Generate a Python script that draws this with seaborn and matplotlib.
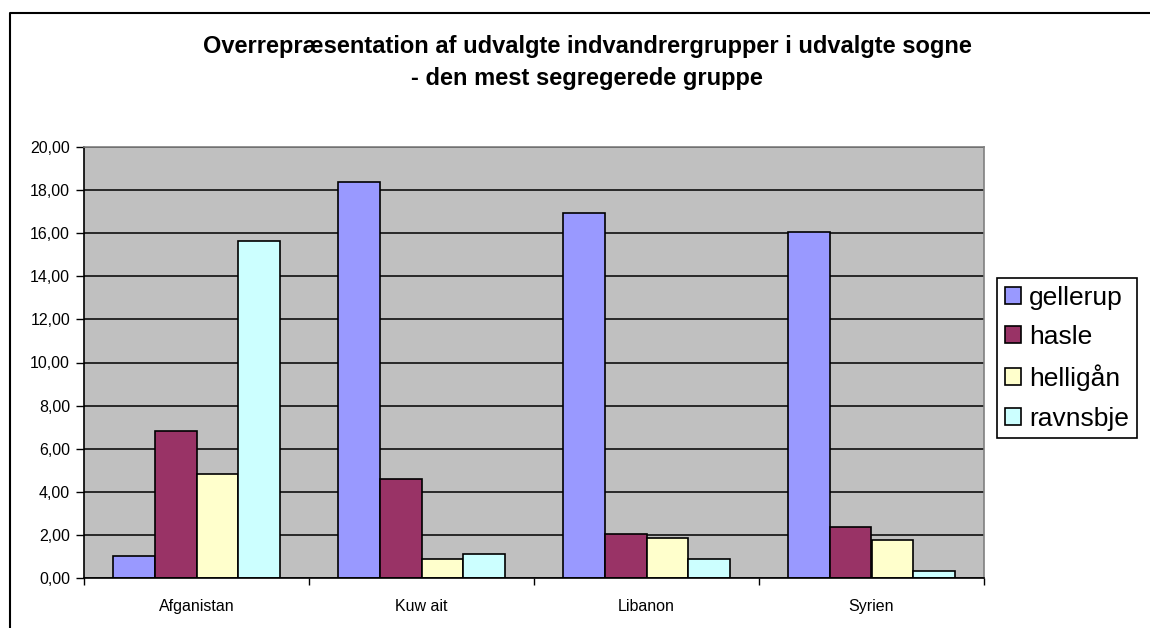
import pandas as pd
import seaborn as sns
import matplotlib.pyplot as plt
from matplotlib.lines import Line2D
from matplotlib.ticker import FuncFormatter

# data
lande = ["Afganistan", "Kuw ait", "Libanon", "Syrien"]
sogne = ["gellerup", "hasle", "helligån", "ravnsbje"]
gellerup = [1.03, 18.38, 16.95, 16.07]
hasle = [6.82, 4.59, 2.06, 2.35]
helligaan = [4.81, 0.90, 1.84, 1.78]
ravnsbje = [15.65, 1.11, 0.90, 0.32]
farver = ["#9999FF", "#993366", "#FFFFCC", "#CCFFFF"]

titel = "Overrepræsentation af udvalgte indvandrergrupper i udvalgte sogne\n- den mest segregerede gruppe"


def long_format():
    rows = []
    for sogn, vals in zip(sogne, [gellerup, hasle, helligaan, ravnsbje]):
        for land, v in zip(lande, vals):
            rows.append({"land": land, "sogn": sogn, "vaerdi": v})
    return pd.DataFrame(rows)


sns.set_style("white")
plt.rcParams["font.family"] = ["Liberation Sans", "DejaVu Sans"]
plt.rcParams["text.color"] = "black"
plt.rcParams["xtick.color"] = "black"
plt.rcParams["ytick.color"] = "black"

df = long_format()

fig = plt.figure(figsize=(11.5, 6.28), dpi=100)
ax = fig.add_axes([84 / 1150, 1 - 578 / 628, 900 / 1150, 431 / 628])

sns.barplot(data=df, x="land", y="vaerdi", hue="sogn", hue_order=sogne,
            palette=farver, edgecolor="black", linewidth=1.2, width=0.74,
            saturation=1, ax=ax)

ax.set_facecolor("#C0C0C0")
ax.set_ylim(0, 20)
ax.set_xlim(-0.5, 3.5)
ax.set_yticks(range(0, 21, 2))
ax.yaxis.set_major_formatter(FuncFormatter(lambda v, p: f"{v:.2f}".replace(".", ",")))
ax.yaxis.grid(True, color="black", linewidth=1.1)
ax.set_axisbelow(True)
ax.set_xlabel("")
ax.set_ylabel("")

# category ticks sit between the groups, like Excel
ax.set_xticks([i - 0.5 for i in range(5)], minor=False)
ax.set_xticklabels([])
ax.set_xticks(range(4), minor=True)
ax.set_xticklabels(lande, minor=True, fontsize=11.5)
ax.tick_params(axis="x", which="minor", length=0, pad=15)
ax.tick_params(axis="x", which="major", length=5, width=1, color="black", direction="out")
ax.tick_params(axis="y", length=6, width=1, color="black", direction="out",
               labelsize=11.5, pad=4)
ax.tick_params(left=True, bottom=True)

for side in ["left", "bottom"]:
    ax.spines[side].set_color("black")
    ax.spines[side].set_linewidth(1.2)
for side in ["top", "right"]:
    ax.spines[side].set_color("#808080")
    ax.spines[side].set_linewidth(1.2)

handles, labels = ax.get_legend_handles_labels()
ax.legend_.remove()
leg = fig.legend(handles, labels, loc="upper left",
                 bbox_to_anchor=(997 / 1150, 1 - 278 / 628),
                 fontsize=19, frameon=True, fancybox=False, framealpha=1,
                 edgecolor="black", handlelength=0.62, handleheight=0.62,
                 handletextpad=0.3, labelspacing=0.58, borderpad=0.3,
                 borderaxespad=0)
leg.get_frame().set_linewidth(1.2)

fig.text(587 / 1150, 1 - 63 / 628, titel, ha="center", va="center",
         fontsize=17, fontweight="bold", linespacing=1.5)

# outer chart border, clipped at right and bottom like the reference
fig.add_artist(Line2D([10 / 1150, 10 / 1150, 1.0], [0.0, 1 - 13 / 628, 1 - 13 / 628],
                      transform=fig.transFigure, color="black", linewidth=1.5))

fig.savefig("out.png", dpi=100)
